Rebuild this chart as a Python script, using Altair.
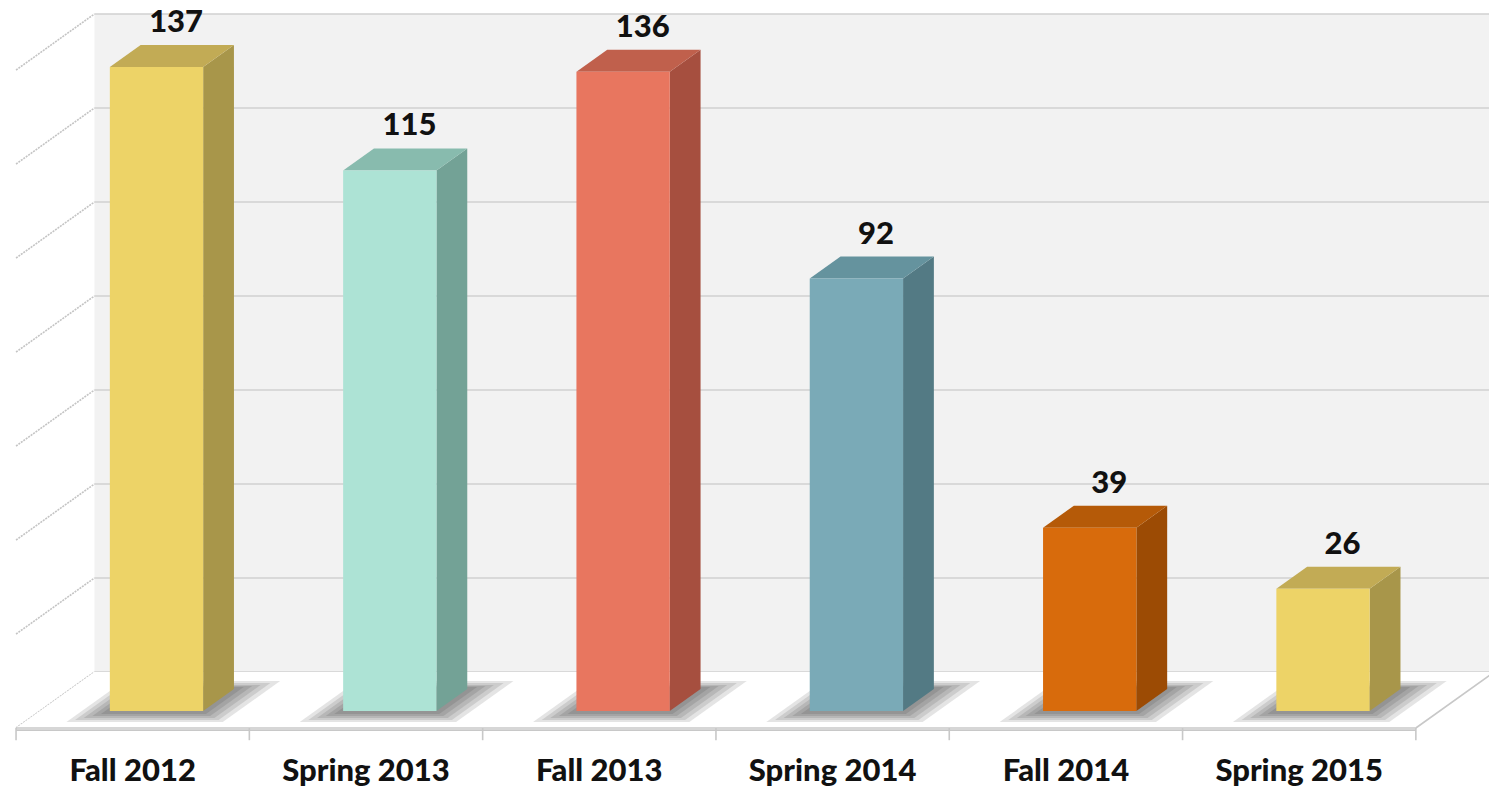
import altair as alt
import pandas as pd

# ---------------- data ----------------
categories = ["Fall 2012", "Spring 2013", "Fall 2013", "Spring 2014", "Fall 2014", "Spring 2015"]
values = [137, 115, 136, 92, 39, 26]
front_colors = ["#EDD367", "#ADE3D5", "#E8765F", "#7AAAB7", "#D86B0C", "#EDD367"]
side_colors = ["#A8964A", "#73A296", "#A64F3F", "#537A84", "#9C4B04", "#A8964A"]
top_colors = ["#C2AB55", "#88BBAE", "#C0604C", "#65939E", "#B55A08", "#C2AB55"]
grid_values = [0, 20, 40, 60, 80, 100, 120, 140]

# ---------------- oblique projection constants ----------------
PX_U = 233.3     # pixels per category unit
PX_V = 4.70      # pixels per value unit
SKEW = 1.4       # horizontal shift per pixel of depth
BAR_HALF = 0.2   # half bar width in category units
D_FRONT, D_BACK, D_WALL = 17, 39, 56
X_DOMAIN = [-0.5345, 5.8135]
Y_DOMAIN = [-13.19, 153.19]


def sx(d):
    return d * SKEW / PX_U


def sy(d):
    return d / PX_V


def flat_quad(uL, uR, v, d0, d1, gid, **extra):
    """horizontal parallelogram (floor / top face) as area points"""
    rows = [
        (uL + sx(d0), v + sy(d0), v + sy(d0)),
        (uL + sx(d1), v + sy(d0), v + sy(d1)),
        (uR + sx(d0), v + sy(d0), v + sy(d1)),
        (uR + sx(d1), v + sy(d1), v + sy(d1)),
    ]
    return [dict(x=a, y=b, y2=c, g=gid, **extra) for a, b, c in rows]


xs = alt.Scale(domain=X_DOMAIN, nice=False, zero=False)
ys = alt.Scale(domain=Y_DOMAIN, nice=False, zero=False)

# ---------------- back wall ----------------
wall_df = pd.DataFrame([dict(x=-0.5 + sx(D_WALL), x2=5.5 + sx(D_WALL), y=sy(D_WALL), y2=140 + sy(D_WALL))])
wall = alt.Chart(wall_df).mark_rect(color="#F2F2F2").encode(
    x=alt.X("x:Q", scale=xs, axis=None), x2="x2:Q",
    y=alt.Y("y:Q", scale=ys, axis=None), y2="y2:Q")

# gridlines on back wall
grid_df = pd.DataFrame([dict(x=-0.5 + sx(D_WALL), x2=5.5 + sx(D_WALL), y=k + sy(D_WALL), y2=k + sy(D_WALL))
                        for k in grid_values])
grid = alt.Chart(grid_df).mark_rule(color="#D0D0D0", strokeWidth=1.5).encode(
    x=alt.X("x:Q", scale=xs, axis=None), x2="x2:Q",
    y=alt.Y("y:Q", scale=ys, axis=None), y2="y2:Q")

# diagonal gridlines on left wall
left_df = pd.DataFrame([dict(x=-0.5, x2=-0.5 + sx(D_WALL), y=k, y2=k + sy(D_WALL)) for k in grid_values])
left = alt.Chart(left_df).mark_rule(color="#C4C4C4", strokeWidth=1.6, strokeDash=[2, 1]).encode(
    x=alt.X("x:Q", scale=xs, axis=None), x2="x2:Q",
    y=alt.Y("y:Q", scale=ys, axis=None), y2="y2:Q")

# ---------------- floor ----------------
floor_df = pd.DataFrame(flat_quad(-0.5, 5.5, 0, 0, D_WALL, 0))
floor = alt.Chart(floor_df).mark_area(color="white").encode(
    x=alt.X("x:Q", scale=xs, axis=None),
    y=alt.Y("y:Q", scale=ys, axis=None), y2="y2:Q")

edge_df = pd.DataFrame([
    dict(x=-0.5, x2=5.5, y=0, y2=0),
    dict(x=-0.5, x2=5.5, y=-0.45, y2=-0.45),
    dict(x=5.5, x2=5.5 + sx(D_WALL), y=0, y2=sy(D_WALL)),
] + [dict(x=j - 0.5, x2=j - 0.5, y=0, y2=-2.6) for j in range(len(categories) + 1)])
edges = alt.Chart(edge_df).mark_rule(color="#C8C8C8", strokeWidth=1.6).encode(
    x=alt.X("x:Q", scale=xs, axis=None), x2="x2:Q",
    y=alt.Y("y:Q", scale=ys, axis=None), y2="y2:Q")

# ---------------- shadows (soft, stacked layers) ----------------
shadow_rows = []
levels = [(0.12, 0.15, 6, 47), (0.095, 0.12, 8, 45), (0.07, 0.09, 10, 43), (0.045, 0.06, 12, 42), (0.02, 0.03, 14, 41)]
for i in range(len(categories)):
    for li, (a, b, d0, d1) in enumerate(levels):
        shadow_rows += flat_quad(i - BAR_HALF - a, i + BAR_HALF + b, 0, d0, d1, i * 10 + li, op=0.12)
shadow_df = pd.DataFrame(shadow_rows)
shadows = alt.Chart(shadow_df).mark_area(color="#222222").encode(
    x=alt.X("x:Q", scale=xs, axis=None),
    y=alt.Y("y:Q", scale=ys, axis=None), y2="y2:Q",
    detail="g:N", opacity=alt.Opacity("op:Q", scale=None))

# ---------------- bars ----------------
side_rows, top_rows, front_rows, label_rows, cat_rows = [], [], [], [], []
for i, (c, v) in enumerate(zip(categories, values)):
    uR = i + BAR_HALF
    uL = i - BAR_HALF
    side_rows += [
        dict(x=uR + sx(D_FRONT), y=sy(D_FRONT), y2=v + sy(D_FRONT), g=i, col=side_colors[i]),
        dict(x=uR + sx(D_BACK), y=sy(D_BACK), y2=v + sy(D_BACK), g=i, col=side_colors[i]),
    ]
    top_rows += flat_quad(uL, uR, v, D_FRONT, D_BACK, i, col=top_colors[i])
    front_rows.append(dict(x=uL + sx(D_FRONT), x2=uR + sx(D_FRONT), y=sy(D_FRONT), y2=v + sy(D_FRONT),
                           col=front_colors[i]))
    label_rows.append(dict(x=i + sx(31), y=v + sy(D_BACK + 13), t=str(v)))
    cat_rows.append(dict(x=i, y=-9.4, t=c))

sides = alt.Chart(pd.DataFrame(side_rows)).mark_area().encode(
    x=alt.X("x:Q", scale=xs, axis=None),
    y=alt.Y("y:Q", scale=ys, axis=None), y2="y2:Q",
    detail="g:N", color=alt.Color("col:N", scale=None))

tops = alt.Chart(pd.DataFrame(top_rows)).mark_area().encode(
    x=alt.X("x:Q", scale=xs, axis=None),
    y=alt.Y("y:Q", scale=ys, axis=None), y2="y2:Q",
    detail="g:N", color=alt.Color("col:N", scale=None))

fronts = alt.Chart(pd.DataFrame(front_rows)).mark_rect().encode(
    x=alt.X("x:Q", scale=xs, axis=None), x2="x2:Q",
    y=alt.Y("y:Q", scale=ys, axis=None), y2="y2:Q",
    color=alt.Color("col:N", scale=None))

labels = alt.Chart(pd.DataFrame(label_rows)).mark_text(
    font="Lato", fontWeight=900, fontSize=31, color="#111111", baseline="alphabetic", align="center"
).encode(x=alt.X("x:Q", scale=xs, axis=None), y=alt.Y("y:Q", scale=ys, axis=None), text="t:N")

cats = alt.Chart(pd.DataFrame(cat_rows)).mark_text(
    font="Lato", fontWeight=900, fontSize=31, color="#111111", baseline="middle", align="center"
).encode(x=alt.X("x:Q", scale=xs, axis=None), y=alt.Y("y:Q", scale=ys, axis=None), text="t:N")

chart = alt.layer(
    wall, grid, left, floor, edges, shadows, sides, tops, fronts, labels, cats
).properties(
    width=1481, height=782, padding=0,
    autosize=alt.AutoSizeParams(type="none"),
    background="white",
).configure_view(stroke=None, clip=False)

chart.save("out.html", embed_options={"renderer": "svg", "actions": False})
